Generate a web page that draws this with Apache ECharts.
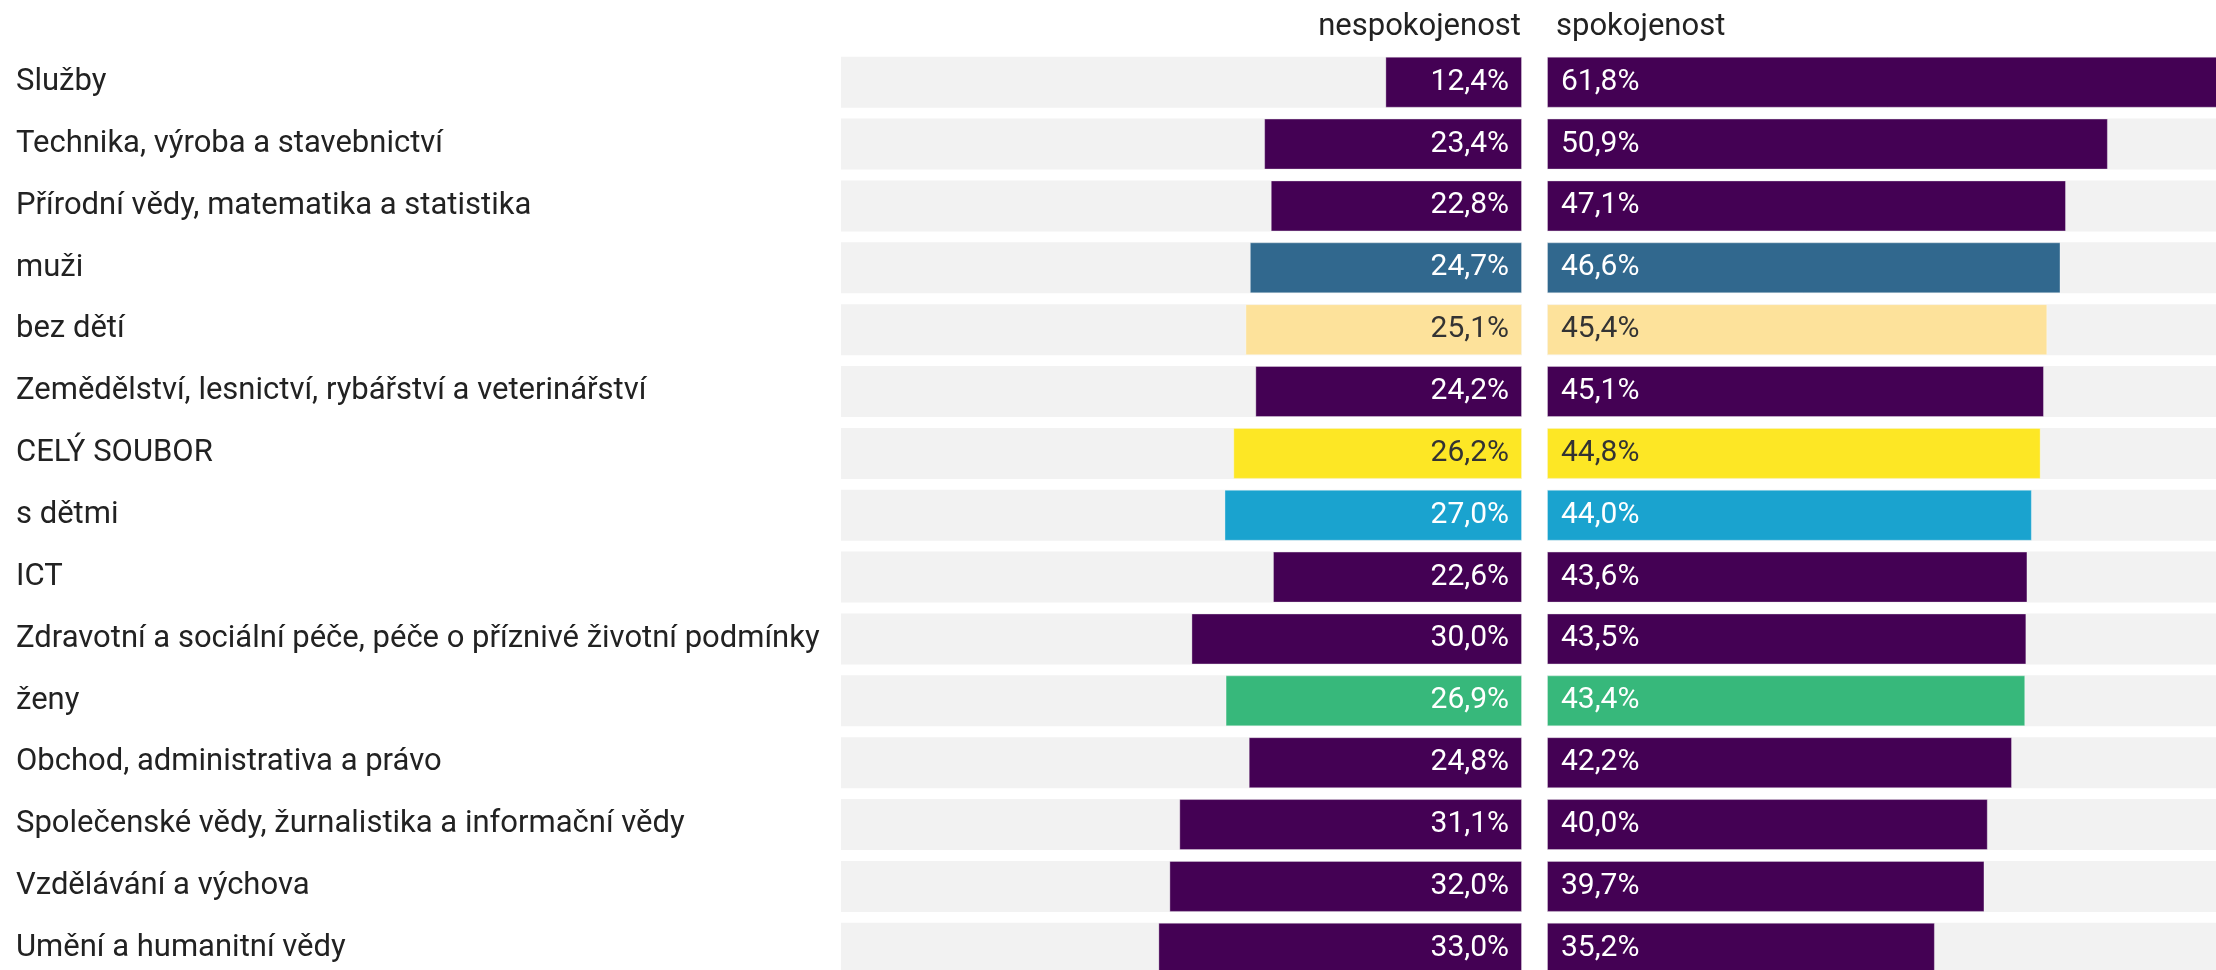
<!DOCTYPE html>
<html>
<head>
<meta charset="utf-8">
<script src="https://cdn.jsdelivr.net/npm/echarts@6/dist/echarts.min.js"></script>
<style>
html,body{margin:0;padding:0;background:#fff;overflow:hidden;width:2216px;height:970px;}
#chart{width:2300px;height:1000px;}
</style>
</head>
<body>
<div id="chart"></div>
<script>
const categories = [
  'Služby',
  'Technika, výroba a stavebnictví',
  'Přírodní vědy, matematika a statistika',
  'muži',
  'bez dětí',
  'Zemědělství, lesnictví, rybářství a veterinářství',
  'CELÝ SOUBOR',
  's dětmi',
  'ICT',
  'Zdravotní a sociální péče, péče o příznivé životní podmínky',
  'ženy',
  'Obchod, administrativa a právo',
  'Společenské vědy, žurnalistika a informační vědy',
  'Vzdělávání a výchova',
  'Umění a humanitní vědy'
];
const nespokojenost = [12.4, 23.4, 22.8, 24.7, 25.1, 24.2, 26.2, 27.0, 22.6, 30.0, 26.9, 24.8, 31.1, 32.0, 33.0];
const spokojenost   = [61.8, 50.9, 47.1, 46.6, 45.4, 45.1, 44.8, 44.0, 43.6, 43.5, 43.4, 42.2, 40.0, 39.7, 35.2];
const groups = ['obor','obor','obor','muzi','bezdeti','obor','celek','sdetmi','obor','obor','zeny','obor','obor','obor','obor'];
const seriesNames = ['nespokojenost', 'spokojenost'];

const groupColor = {
  obor: '#440154', muzi: '#31688e', bezdeti: '#fde29b', celek: '#fde725', sdetmi: '#1aa3cf', zeny: '#37b87b'
};
const groupText = {
  obor: '#ffffff', muzi: '#ffffff', bezdeti: '#333333', celek: '#333333', sdetmi: '#ffffff', zeny: '#ffffff'
};
const maxVal = Math.max(...nespokojenost, ...spokojenost);
const fmt = v => v.toFixed(1).replace('.', ',') + '%';

function mkData(arr) {
  return arr.map((v, i) => ({
    value: v,
    itemStyle: { color: groupColor[groups[i]] },
    label: { color: groupText[groups[i]] }
  }));
}

const FONT = 'Roboto';
const gridTop = 51.3, gridH = 927.9;

const chart = echarts.init(document.getElementById('chart'), null, { renderer: 'canvas' });
chart.setOption({
  animation: false,
  backgroundColor: '#ffffff',
  grid: [
    { left: 841, width: 681, top: gridTop, height: gridH, containLabel: false },
    { left: 1547, width: 681, top: gridTop, height: gridH, containLabel: false }
  ],
  xAxis: [
    { gridIndex: 0, type: 'value', min: 0, max: maxVal, inverse: true, show: false },
    { gridIndex: 1, type: 'value', min: 0, max: maxVal, show: false }
  ],
  yAxis: [
    {
      gridIndex: 0, type: 'category', data: categories, inverse: true,
      axisLine: { show: false, onZero: false }, axisTick: { show: false }, splitLine: { show: false },
      axisLabel: { align: 'left', margin: 825, fontSize: 31, fontFamily: FONT, color: '#222222' }
    },
    {
      gridIndex: 1, type: 'category', data: categories, inverse: true, show: false
    }
  ],
  graphic: [
    { type: 'text', style: { x: 1521, y: 27, text: seriesNames[0], textAlign: 'right', textVerticalAlign: 'middle', fontSize: 31, fontFamily: FONT, fill: '#222222' } },
    { type: 'text', style: { x: 1556, y: 27, text: seriesNames[1], textAlign: 'left', textVerticalAlign: 'middle', fontSize: 31, fontFamily: FONT, fill: '#222222' } }
  ],
  series: [
    {
      name: seriesNames[0], type: 'bar', xAxisIndex: 0, yAxisIndex: 0,
      data: mkData(nespokojenost), barWidth: 51,
      showBackground: true, backgroundStyle: { color: '#f2f2f2' },
      itemStyle: { borderColor: 'rgba(255,255,255,0.35)', borderWidth: 1 },
      label: { show: true, position: 'insideRight', distance: 13, fontSize: 30, fontFamily: FONT, formatter: p => fmt(p.value) }
    },
    {
      name: seriesNames[1], type: 'bar', xAxisIndex: 1, yAxisIndex: 1,
      data: mkData(spokojenost), barWidth: 51,
      showBackground: true, backgroundStyle: { color: '#f2f2f2' },
      itemStyle: { borderColor: 'rgba(255,255,255,0.35)', borderWidth: 1 },
      label: { show: true, position: 'insideLeft', distance: 14, fontSize: 30, fontFamily: FONT, formatter: p => fmt(p.value) }
    }
  ]
});
</script>
</body>
</html>
